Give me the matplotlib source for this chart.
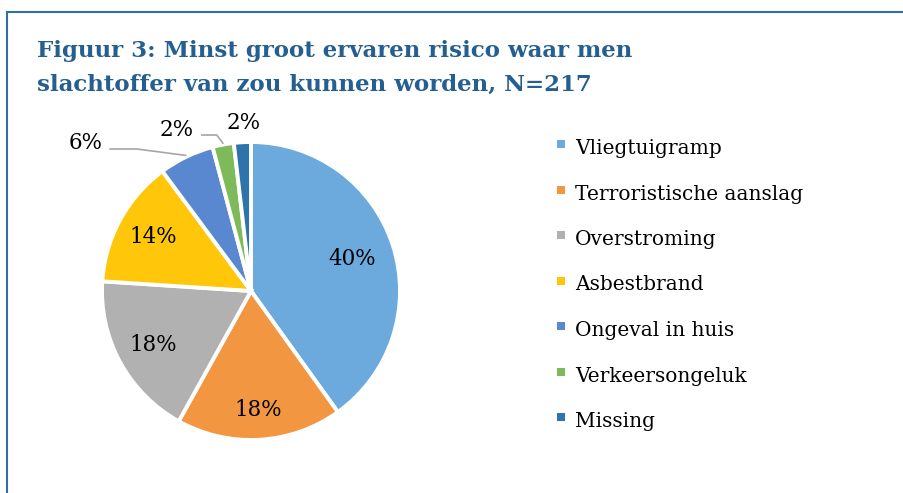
import numpy as np
import matplotlib
matplotlib.use('Agg')
import matplotlib.pyplot as plt
from matplotlib.patches import Rectangle

# Data (N=217)
categories = ['Vliegtuigramp', 'Terroristische aanslag', 'Overstroming',
              'Asbestbrand', 'Ongeval in huis', 'Verkeersongeluk', 'Missing']
counts = [87, 39, 39, 30, 13, 5, 4]
pct_labels = ['40%', '18%', '18%', '14%', '6%', '2%', '2%']
colors = ['#6CAADD', '#F39642', '#B1B1B1', '#FFC60A', '#5A88D0', '#7FBA5A', '#2E73AB']

title_lines = ['Figuur 3: Minst groot ervaren risico waar men',
               'slachtoffer van zou kunnen worden, N=217']
serif = ['DejaVu Serif']

W, H = 904, 493
fig = plt.figure(figsize=(W / 100, H / 100), dpi=100)
fig.patch.set_facecolor('white')

# blue frame (left + top edges visible)
fig.add_artist(plt.Line2D([7 / W, 7 / W], [0, 1 - 12 / H], transform=fig.transFigure,
                          color='#2F6FA6', lw=1.5))
fig.add_artist(plt.Line2D([7 / W, 1], [1 - 12 / H, 1 - 12 / H], transform=fig.transFigure,
                          color='#2F6FA6', lw=1.5))

for k, line in enumerate(title_lines):
    fig.text(37 / W, 1 - (57 + 34 * k) / H, line, ha='left', va='baseline', fontsize=16.5,
             fontweight='bold', color='#255E91', family=serif)

# pie axes
cx, cy, r = 251, 291, 149
ax = fig.add_axes([(cx - r) / W, (H - cy - r) / H, 2 * r / W, 2 * r / H])
wedges, _ = ax.pie(counts, colors=colors, startangle=90, counterclock=False,
                   radius=1.0, wedgeprops=dict(edgecolor='white', linewidth=2.8))
ax.set_xlim(-1, 1)
ax.set_ylim(-1, 1)
ax.set_aspect('equal')
ax.axis('off')

# inside labels
inside_dist = [0.71, 0.80, 0.75, 0.75]
for i in range(4):
    w = wedges[i]
    ang = np.deg2rad((w.theta1 + w.theta2) / 2)
    d = inside_dist[i]
    ax.text(d * np.cos(ang), d * np.sin(ang), pct_labels[i], ha='center', va='center',
            fontsize=15.5, family=serif, color='black')

# outside labels with leader lines
out_pos = {4: (-1.11, 0.99), 5: (-0.50, 1.08), 6: (-0.05, 1.13)}
leader = {4: (-0.946, -0.765, 0.953), 5: (-0.33, -0.23, 1.047)}  # start x, elbow x, y
for i, (lx, ly) in out_pos.items():
    ax.text(lx, ly, pct_labels[i], ha='center', va='center', fontsize=15.5,
            family=serif, color='black', clip_on=False)
    if i in leader:
        w = wedges[i]
        ang = np.deg2rad((w.theta1 + w.theta2) / 2)
        ex, ey = 1.01 * np.cos(ang), 1.01 * np.sin(ang)
        sx, bx, by = leader[i]
        ax.plot([sx, bx, ex], [by, by, ey], color='#A6A6A6', lw=1.2, clip_on=False)

# legend
for i, (name, col) in enumerate(zip(categories, colors)):
    base = 154 + i * 45.5
    fig.add_artist(Rectangle((557 / W, 1 - (base - 6) / H), 8 / W, 8 / H,
                             transform=fig.transFigure, color=col, lw=0))
    fig.text(575 / W, 1 - base / H, name, ha='left', va='baseline', fontsize=14.5,
             family=serif, color='black')

fig.savefig('out.png', dpi=100, facecolor='white')
